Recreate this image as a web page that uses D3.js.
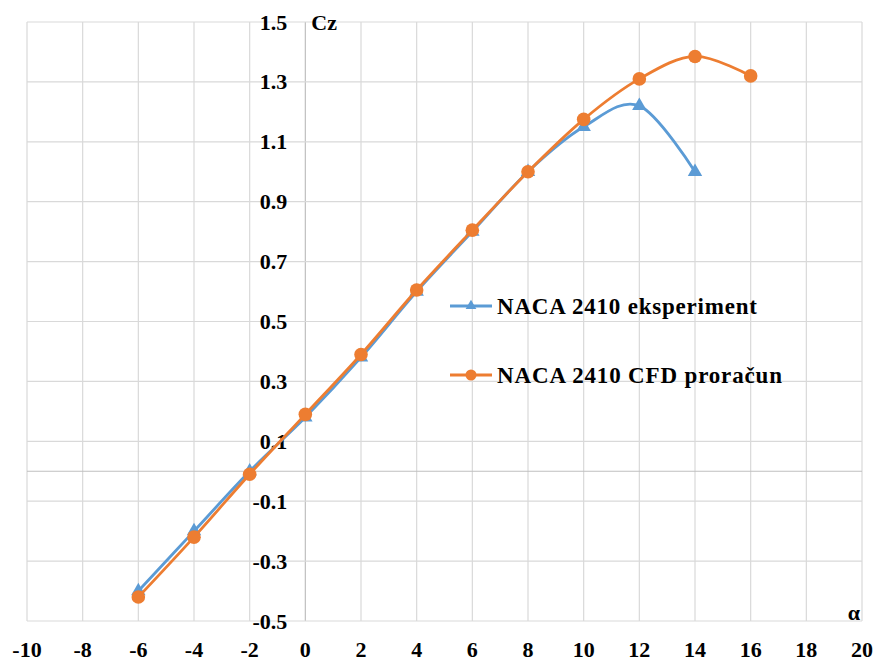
<!DOCTYPE html>
<html>
<head>
<meta charset="utf-8">
<script src="https://cdn.jsdelivr.net/npm/d3@7"></script>
<style>
  html, body { margin: 0; padding: 0; background: #fff; }
  svg text { font-family: "Liberation Serif", "Times New Roman", serif; font-weight: bold; fill: #000; }
</style>
</head>
<body>
<svg id="chart" width="876" height="662"></svg>
<script>
// Angle of attack (deg) and lift coefficient Cz for the NACA 2410 profile
const alphaExp = [-6, -4, -2, 0, 2, 4, 6, 8, 10, 12, 14];
const czExp    = [-0.40, -0.20, 0.00, 0.18, 0.38, 0.60, 0.80, 1.00, 1.15, 1.22, 1.00];

const alphaCfd = [-6, -4, -2, 0, 2, 4, 6, 8, 10, 12, 14, 16];
const czCfd    = [-0.42, -0.22, -0.01, 0.19, 0.39, 0.605, 0.805, 1.00, 1.175, 1.31, 1.385, 1.32];

const xTicks = [-10, -8, -6, -4, -2, 0, 2, 4, 6, 8, 10, 12, 14, 16, 18, 20];
const yTicks = [-0.5, -0.3, -0.1, 0.1, 0.3, 0.5, 0.7, 0.9, 1.1, 1.3, 1.5];

const seriesNames = ["NACA 2410 eksperiment", "NACA 2410 CFD proračun"];
const seriesColors = ["#5B9BD5", "#ED7D31"];

const svg = d3.select("#chart");

const x = d3.scaleLinear().domain([-10, 20]).range([27, 862]);
const y = d3.scaleLinear().domain([-0.5, 1.5]).range([621, 22]);

// grid
const grid = svg.append("g");
grid.selectAll("line.v").data(xTicks).join("line")
  .attr("x1", d => x(d)).attr("x2", d => x(d))
  .attr("y1", y(1.5)).attr("y2", y(-0.5))
  .attr("stroke", d => d === 0 ? "#bfbfbf" : "#d9d9d9").attr("stroke-width", 1.2);
grid.selectAll("line.h").data(yTicks.concat([0])).join("line")
  .attr("x1", x(-10)).attr("x2", x(20))
  .attr("y1", d => y(d)).attr("y2", d => y(d))
  .attr("stroke", d => d === 0 ? "#bfbfbf" : "#d9d9d9").attr("stroke-width", 1.2);

// y tick labels along the vertical axis at alpha = 0
svg.append("g").selectAll("text").data(yTicks).join("text")
  .attr("x", x(0) - 18).attr("y", d => y(d))
  .attr("text-anchor", "end").attr("dominant-baseline", "central")
  .style("font-size", "22px")
  .text(d => d3.format(".1f")(d).replace("−", "-"));

// x tick labels
svg.append("g").selectAll("text").data(xTicks).join("text")
  .attr("x", d => x(d)).attr("y", 649)
  .attr("text-anchor", "middle").attr("dominant-baseline", "central")
  .style("font-size", "22px")
  .text(d => String(d));

// axis titles
svg.append("text").attr("x", x(0) + 6).attr("y", y(1.5)).attr("dominant-baseline", "central")
  .style("font-size", "22px").text("Cz");
svg.append("text").attr("x", x(20) - 2).attr("y", 612).attr("text-anchor", "end")
  .attr("dominant-baseline", "central").style("font-size", "22px").text("α");

const line = d3.line().curve(d3.curveCatmullRom.alpha(0));

const expPts = alphaExp.map((a, i) => [x(a), y(czExp[i])]);
const cfdPts = alphaCfd.map((a, i) => [x(a), y(czCfd[i])]);

const tri = d3.symbol().type(d3.symbolTriangle).size(90);

svg.append("path").attr("d", line(expPts)).attr("fill", "none")
  .attr("stroke", seriesColors[0]).attr("stroke-width", 2.8);
svg.append("g").selectAll("path").data(expPts).join("path")
  .attr("d", tri).attr("transform", d => `translate(${d[0]},${d[1]})`)
  .attr("fill", seriesColors[0]);

svg.append("path").attr("d", line(cfdPts)).attr("fill", "none")
  .attr("stroke", seriesColors[1]).attr("stroke-width", 2.8);
svg.append("g").selectAll("circle").data(cfdPts).join("circle")
  .attr("cx", d => d[0]).attr("cy", d => d[1]).attr("r", 6.8)
  .attr("fill", seriesColors[1]);

// legend
const legend = svg.append("g");
const legY = [306, 375];
const legLen = [260, 285];
seriesNames.forEach((name, i) => {
  const g = legend.append("g").attr("transform", `translate(450,${legY[i]})`);
  g.append("line").attr("x1", 0).attr("x2", 42).attr("stroke", seriesColors[i]).attr("stroke-width", 2.8);
  if (i === 0) {
    g.append("path").attr("d", d3.symbol().type(d3.symbolTriangle).size(50)).attr("transform", "translate(21,0)")
      .attr("fill", seriesColors[i]);
  } else {
    g.append("circle").attr("cx", 21).attr("r", 5.5).attr("fill", seriesColors[i]);
  }
  g.append("text").attr("x", 47).attr("y", 0).attr("dominant-baseline", "central")
    .style("font-size", "23px")
    .attr("textLength", legLen[i]).attr("lengthAdjust", "spacing")
    .text(name);
});
</script>
</body>
</html>
